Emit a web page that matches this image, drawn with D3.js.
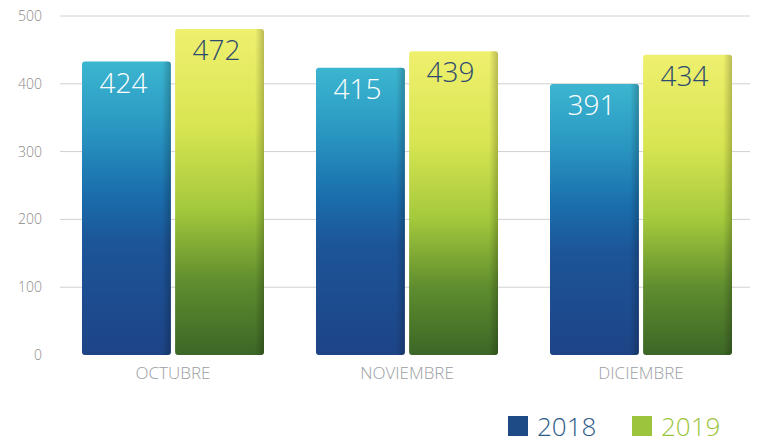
<!DOCTYPE html>
<html>
<head>
<meta charset="utf-8">
<script src="https://cdn.jsdelivr.net/npm/d3@7"></script>
<style>
  body { margin: 0; background: #fff; }
  svg { display: block; font-family: "Open Sans", "Noto Sans", sans-serif; }
</style>
</head>
<body>
<svg id="chart" width="765" height="444"></svg>
<script>
var months = ['OCTUBRE', 'NOVIEMBRE', 'DICIEMBRE'];
var years = ['2018', '2019'];
var values2018 = [424, 415, 391];
var values2019 = [472, 439, 434];
var yTicks = [0, 100, 200, 300, 400, 500];

var svg = d3.select('#chart');
var margin = { left: 60, right: 750, top: 16, bottom: 355 };

var x = d3.scaleBand().domain(months).range([60, 762]).paddingInner(0.0).paddingOuter(0);
var xs = d3.scaleBand().domain(years).range([0, 182]).paddingInner(0.045);
var y = d3.scaleLinear().domain([0, 500]).range([margin.bottom, margin.top]);

var defs = svg.append('defs');
function grad(id, stops) {
    var g = defs.append('linearGradient').attr('id', id).attr('x1', 0).attr('y1', 0).attr('x2', 0).attr('y2', 1);
    stops.forEach(function (s) { g.append('stop').attr('offset', s[0]).attr('stop-color', s[1]); });
}
grad('g2018', [[0, '#3cb6d0'], [0.22, '#2a98c2'], [0.45, '#1a6eac'], [0.62, '#1c5598'], [1, '#1d4486']]);
grad('g2019', [[0, '#eff06e'], [0.3, '#d8e552'], [0.55, '#a4c93c'], [0.78, '#5e8c2e'], [1, '#3c6626']]);
var edge = defs.append('linearGradient').attr('id', 'edge').attr('x1', 0).attr('x2', 1);
edge.append('stop').attr('offset', 0.9).attr('stop-color', '#000').attr('stop-opacity', 0);
edge.append('stop').attr('offset', 1).attr('stop-color', '#000').attr('stop-opacity', 0.22);

// grid + y axis labels
svg.append('g').selectAll('line').data(yTicks.filter(function (d) { return d > 0; })).enter().append('line')
    .attr('x1', margin.left).attr('x2', margin.right)
    .attr('y1', function (d) { return y(d); }).attr('y2', function (d) { return y(d); })
    .attr('stroke', '#d0d0d0').attr('stroke-width', 1);

svg.append('g').selectAll('text').data(yTicks).enter().append('text')
    .attr('x', 42).attr('y', function (d) { return y(d) + 5; })
    .attr('text-anchor', 'end').attr('font-size', 14).attr('font-weight', 300).attr('fill', '#8a8a8a')
    .text(function (d) { return d; });

var data = months.map(function (m, i) {
    return { month: m, series: [{ year: '2018', value: values2018[i] }, { year: '2019', value: values2019[i] }] };
});

var cap = 6;
var groups = svg.append('g').selectAll('g').data(data).enter().append('g')
    .attr('transform', function (d) { return 'translate(' + (x(d.month) + 22) + ',0)'; });

var bars = groups.selectAll('g').data(function (d) { return d.series; }).enter().append('g');

bars.append('rect')
    .attr('x', function (d) { return xs(d.year); })
    .attr('y', function (d) { return y(d.value) - cap; })
    .attr('width', xs.bandwidth())
    .attr('height', function (d) { return y(0) - y(d.value) + cap; })
    .attr('rx', 3)
    .attr('fill', function (d) { return 'url(#g' + d.year + ')'; });

bars.append('rect')
    .attr('x', function (d) { return xs(d.year); })
    .attr('y', function (d) { return y(d.value) - cap; })
    .attr('width', xs.bandwidth())
    .attr('height', function (d) { return y(0) - y(d.value) + cap; })
    .attr('rx', 3)
    .attr('fill', 'url(#edge)');

bars.append('text')
    .attr('x', function (d) { return xs(d.year) + xs.bandwidth() / 2 - 3; })
    .attr('y', function (d) { return y(d.value) + 25; })
    .attr('text-anchor', 'middle').attr('font-size', 28).attr('font-weight', 300)
    .attr('fill', function (d) { return d.year === '2018' ? '#ffffff' : '#2c4a6e'; })
    .text(function (d) { return d.value; });

groups.append('text')
    .attr('x', 91).attr('y', 379)
    .attr('text-anchor', 'middle').attr('font-size', 17).attr('font-weight', 300).attr('fill', '#9a9ea2')
    .text(function (d) { return d.month; });

// legend
var legendColors = { '2018': '#1e4a86', '2019': '#9cc43c' };
var legendText = { '2018': '#2a5a88', '2019': '#9cc43c' };
var lx = d3.scaleOrdinal().domain(years).range([508, 632]);
var legend = svg.append('g').selectAll('g').data(years).enter().append('g')
    .attr('transform', function (d) { return 'translate(' + lx(d) + ',416)'; });
legend.append('rect').attr('width', 20).attr('height', 20).attr('fill', function (d) { return legendColors[d]; });
legend.append('text').attr('x', 29).attr('y', 20).attr('font-size', 26).attr('font-weight', 300)
    .attr('fill', function (d) { return legendText[d]; }).text(function (d) { return d; });
</script>
</body>
</html>
